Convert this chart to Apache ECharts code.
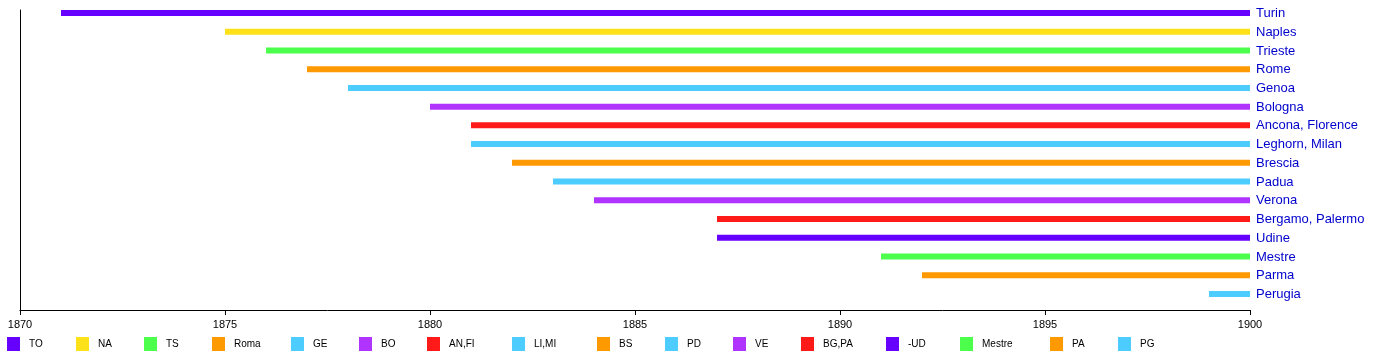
<!DOCTYPE html>
<html>
<head>
<meta charset="utf-8">
<script src="https://cdn.jsdelivr.net/npm/echarts@6/dist/echarts.min.js"></script>
<style>
html,body{margin:0;padding:0;background:#fff;}
#chart{width:1380px;height:360px;}
</style>
</head>
<body>
<div id="chart"></div>
<script>
const cities = ['Turin','Naples','Trieste','Rome','Genoa','Bologna','Ancona, Florence','Leghorn, Milan','Brescia','Padua','Verona','Bergamo, Palermo','Udine','Mestre','Parma','Perugia'];
const codes = ['TO','NA','TS','Roma','GE','BO','AN,FI','LI,MI','BS','PD','VE','BG,PA','-UD','Mestre','PA','PG'];
const startYears = [1871,1875,1876,1877,1878,1880,1881,1881,1882,1883,1884,1887,1887,1891,1892,1899];
const endYears = [1900,1900,1900,1900,1900,1900,1900,1900,1900,1900,1900,1900,1900,1900,1900,1900];
const colors = ['#6600ff','#ffe11a','#4cff4c','#ff9900','#4dccff','#b033ff','#ff1a1a','#4dccff','#ff9900','#4dccff','#b033ff','#ff1a1a','#6600ff','#4cff4c','#ff9900','#4dccff'];
const legendLefts = [7,76,144,212,291,359,427,512,597,665,733,801,886,960,1050,1118];

const FONT = '"Liberation Sans", Arial, Helvetica, sans-serif';
const chart = echarts.init(document.getElementById('chart'), null, {renderer:'canvas'});

const series = cities.map((c, i) => ({
  type: 'custom',
  name: codes[i],
  itemStyle: { color: colors[i] },
  encode: { x: [0, 1], y: 2 },
  data: [[startYears[i], endYears[i], i, c]],
  renderItem: function (params, api) {
    const p0 = api.coord([api.value(0), api.value(2)]);
    const p1 = api.coord([api.value(1), api.value(2)]);
    const h = 6;
    return {
      type: 'group',
      children: [
        { type: 'rect', shape: { x: p0[0], y: p0[1] - h / 2, width: p1[0] - p0[0], height: h },
          style: { fill: api.visual('color') } },
        { type: 'text', x: p1[0] + 6, y: p1[1] + 0.5,
          style: { text: cities[api.value(2)], fill: '#0000cc', font: '13px ' + FONT,
                   textVerticalAlign: 'middle', verticalAlign: 'middle', align: 'left' } }
      ]
    };
  }
}));

const legends = codes.map((c, i) => ({
  data: [c],
  left: legendLefts[i],
  top: 337,
  padding: 0,
  itemWidth: 13,
  itemHeight: 14,
  icon: 'rect',
  selectedMode: false,
  textStyle: { fontSize: 10, color: '#000', fontFamily: FONT, padding: [0, 0, 0, 4] }
}));

chart.setOption({
  backgroundColor: '#fff',
  animation: false,
  color: colors,
  legend: legends,
  grid: { left: 20, right: 130, top: 10, bottom: 50, containLabel: false },
  xAxis: {
    type: 'value', min: 1870, max: 1900, interval: 5, position: 'bottom',
    axisLine: { show: true, onZero: false, lineStyle: { color: '#000', width: 1 } },
    axisTick: { show: true, length: 5, lineStyle: { color: '#000' } },
    axisLabel: { color: '#000', fontSize: 11, fontFamily: FONT, margin: 9, formatter: v => String(v) },
    splitLine: { show: false }
  },
  yAxis: {
    type: 'value', inverse: true, min: -0.16, max: 15.86, position: 'left',
    axisLine: { show: true, onZero: false, lineStyle: { color: '#000', width: 1 } },
    axisTick: { show: false }, axisLabel: { show: false }, splitLine: { show: false }
  },
  series: series
});
</script>
</body>
</html>
